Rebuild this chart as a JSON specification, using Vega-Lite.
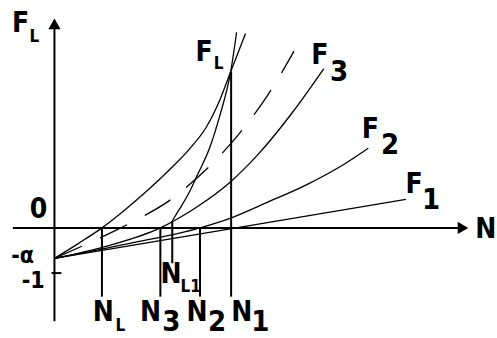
{
  "$schema": "https://vega.github.io/schema/vega-lite/v6.json",
  "width": 497,
  "height": 338,
  "autosize": {"type": "fit", "contains": "padding"},
  "padding": 0,
  "background": "white",
  "config": {"view": {"stroke": null}},
  "datasets": {
    "curves": [
      {"curve": "FL", "i": 0, "n": 0, "f": -0.674},
      {"curve": "FL", "i": 1, "n": 0.522, "f": -0.348},
      {"curve": "FL", "i": 2, "n": 1.043, "f": 0},
      {"curve": "FL", "i": 3, "n": 1.565, "f": 0.413},
      {"curve": "FL", "i": 4, "n": 2.065, "f": 0.848},
      {"curve": "FL", "i": 5, "n": 2.543, "f": 1.304},
      {"curve": "FL", "i": 6, "n": 2.978, "f": 1.761},
      {"curve": "FL", "i": 7, "n": 3.326, "f": 2.217},
      {"curve": "FL", "i": 8, "n": 3.63, "f": 2.826},
      {"curve": "FL", "i": 9, "n": 3.87, "f": 3.457},
      {"curve": "FL", "i": 10, "n": 4.196, "f": 4.304},
      {"curve": "FL1", "i": 0, "n": 2.587, "f": 0.152},
      {"curve": "FL1", "i": 1, "n": 2.717, "f": 0.37},
      {"curve": "FL1", "i": 2, "n": 2.935, "f": 0.739},
      {"curve": "FL1", "i": 3, "n": 3.152, "f": 1.196},
      {"curve": "FL1", "i": 4, "n": 3.413, "f": 1.783},
      {"curve": "FL1", "i": 5, "n": 3.63, "f": 2.478},
      {"curve": "FL1", "i": 6, "n": 3.87, "f": 3.457},
      {"curve": "FL1", "i": 7, "n": 4.0, "f": 4.326},
      {"curve": "D", "i": 0, "n": 0, "f": -0.674},
      {"curve": "D", "i": 1, "n": 0.826, "f": -0.304},
      {"curve": "D", "i": 2, "n": 1.413, "f": -0.022},
      {"curve": "D", "i": 3, "n": 1.957, "f": 0.261},
      {"curve": "D", "i": 4, "n": 2.5, "f": 0.587},
      {"curve": "D", "i": 5, "n": 2.935, "f": 0.935},
      {"curve": "D", "i": 6, "n": 3.478, "f": 1.435},
      {"curve": "D", "i": 7, "n": 4.022, "f": 2.043},
      {"curve": "D", "i": 8, "n": 4.565, "f": 2.761},
      {"curve": "D", "i": 9, "n": 4.913, "f": 3.304},
      {"curve": "D", "i": 10, "n": 5.261, "f": 3.913},
      {"curve": "F3", "i": 0, "n": 0, "f": -0.674},
      {"curve": "F3", "i": 1, "n": 1.196, "f": -0.391},
      {"curve": "F3", "i": 2, "n": 2.326, "f": 0},
      {"curve": "F3", "i": 3, "n": 3.152, "f": 0.478},
      {"curve": "F3", "i": 4, "n": 3.87, "f": 1.022},
      {"curve": "F3", "i": 5, "n": 4.457, "f": 1.609},
      {"curve": "F3", "i": 6, "n": 5.217, "f": 2.543},
      {"curve": "F3", "i": 7, "n": 5.913, "f": 3.522},
      {"curve": "F2", "i": 0, "n": 0, "f": -0.674},
      {"curve": "F2", "i": 1, "n": 1.63, "f": -0.348},
      {"curve": "F2", "i": 2, "n": 3.196, "f": 0},
      {"curve": "F2", "i": 3, "n": 3.87, "f": 0.217},
      {"curve": "F2", "i": 4, "n": 4.674, "f": 0.565},
      {"curve": "F2", "i": 5, "n": 5.543, "f": 0.957},
      {"curve": "F2", "i": 6, "n": 6.37, "f": 1.413},
      {"curve": "F2", "i": 7, "n": 6.891, "f": 1.761},
      {"curve": "F1", "i": 0, "n": 0, "f": -0.674},
      {"curve": "F1", "i": 1, "n": 7.717, "f": 0.63}
    ],
    "rules": [
      {"name": "F axis", "n": 0, "f": -2.065, "n2": 0, "f2": 4.52},
      {"name": "N axis", "n": -0.913, "f": 0, "n2": 8.98, "f2": 0},
      {"name": "tick -1", "n": -0.065, "f": -1, "n2": 0.152, "f2": -1},
      {"name": "N_L", "n": 1.043, "f": 0, "n2": 1.043, "f2": -1.522},
      {"name": "N_3", "n": 2.326, "f": 0, "n2": 2.326, "f2": -1.522},
      {"name": "N_L1", "n": 2.587, "f": 0.152, "n2": 2.587, "f2": -0.783},
      {"name": "N_2", "n": 3.196, "f": 0, "n2": 3.196, "f2": -1.522},
      {"name": "N_1", "n": 3.88, "f": 3.457, "n2": 3.88, "f2": -1.522}
    ],
    "arrows": [
      {"dir": "up", "n": 0, "f": 4.515},
      {"dir": "right", "n": 8.972, "f": 0}
    ],
    "labels": [
      {"text": "F", "role": "main", "n": -0.93, "f": 4.326},
      {"text": "F", "role": "main", "n": 3.1, "f": 3.696},
      {"text": "F", "role": "main", "n": 5.64, "f": 3.63},
      {"text": "F", "role": "main", "n": 6.75, "f": 2.0},
      {"text": "F", "role": "main", "n": 7.71, "f": 0.761},
      {"text": "N", "role": "main", "n": 9.24, "f": -0.217},
      {"text": "N", "role": "main", "n": 0.84, "f": -2.065},
      {"text": "N", "role": "main", "n": 1.88, "f": -2.065},
      {"text": "N", "role": "main", "n": 2.9, "f": -2.065},
      {"text": "N", "role": "main", "n": 3.88, "f": -2.065},
      {"text": "N", "role": "main", "n": 2.33, "f": -1.217},
      {"text": "0", "role": "main", "n": -0.54, "f": 0.217},
      {"text": "3", "role": "sub", "n": 2.37, "f": -2.283},
      {"text": "2", "role": "sub", "n": 3.37, "f": -2.283},
      {"text": "1", "role": "sub", "n": 4.32, "f": -2.283},
      {"text": "3", "role": "sub", "n": 6.05, "f": 3.261},
      {"text": "2", "role": "sub", "n": 7.17, "f": 1.63},
      {"text": "1", "role": "sub", "n": 8.07, "f": 0.413},
      {"text": "L", "role": "subL", "n": -0.55, "f": 4.109},
      {"text": "L", "role": "subL", "n": 3.5, "f": 3.522},
      {"text": "L", "role": "subL", "n": 1.34, "f": -2.283},
      {"text": "L1", "role": "subL", "n": 2.77, "f": -1.413},
      {"text": "-α", "role": "num", "n": -0.95, "f": -0.783},
      {"text": "-1", "role": "num", "n": -0.72, "f": -1.326}
    ]
  },
  "encoding": {
    "x": {"field": "n", "type": "quantitative", "scale": {"domain": [-1.1957, 9.6087], "nice": false, "zero": false}, "axis": null},
    "y": {"field": "f", "type": "quantitative", "scale": {"domain": [-2.3043, 5.0435], "nice": false, "zero": false}, "axis": null}
  },
  "layer": [
    {
      "data": {"name": "curves"},
      "transform": [{"filter": "datum.curve !== 'D'"}],
      "mark": {"type": "line", "color": "black", "strokeWidth": 1.3, "interpolate": "monotone"},
      "encoding": {"detail": {"field": "curve"}, "order": {"field": "i", "type": "quantitative"}}
    },
    {
      "data": {"name": "curves"},
      "transform": [{"filter": "datum.curve === 'D'"}],
      "mark": {"type": "line", "color": "black", "strokeWidth": 1.3, "interpolate": "monotone", "strokeDash": [30, 20]},
      "encoding": {"order": {"field": "i", "type": "quantitative"}}
    },
    {
      "data": {"name": "rules"},
      "mark": {"type": "rule", "color": "black", "strokeWidth": 2},
      "encoding": {"x2": {"field": "n2"}, "y2": {"field": "f2"}}
    },
    {
      "data": {"name": "arrows"},
      "mark": {"type": "point", "filled": true, "color": "black", "size": 150, "opacity": 1},
      "encoding": {"shape": {"field": "dir", "type": "nominal", "scale": {"domain": ["up", "right"], "range": ["triangle-up", "triangle-right"]}, "legend": null}}
    },
    {
      "data": {"name": "labels"},
      "transform": [{"filter": "datum.role === 'main'"}],
      "mark": {"type": "text", "align": "left", "baseline": "alphabetic", "font": "Liberation Sans Narrow, DejaVu Sans Condensed, sans-serif", "fontWeight": "bold", "fontSize": 28, "color": "black"},
      "encoding": {"text": {"field": "text"}}
    },
    {
      "data": {"name": "labels"},
      "transform": [{"filter": "datum.role === 'sub'"}],
      "mark": {"type": "text", "align": "left", "baseline": "alphabetic", "font": "Liberation Sans Narrow, DejaVu Sans Condensed, sans-serif", "fontWeight": "bold", "fontSize": 29, "color": "black"},
      "encoding": {"text": {"field": "text"}}
    },
    {
      "data": {"name": "labels"},
      "transform": [{"filter": "datum.role === 'subL'"}],
      "mark": {"type": "text", "align": "left", "baseline": "alphabetic", "font": "Liberation Sans Narrow, DejaVu Sans Condensed, sans-serif", "fontWeight": "bold", "fontSize": 17, "color": "black"},
      "encoding": {"text": {"field": "text"}}
    },
    {
      "data": {"name": "labels"},
      "transform": [{"filter": "datum.role === 'num'"}],
      "mark": {"type": "text", "align": "left", "baseline": "alphabetic", "font": "Liberation Sans Narrow, DejaVu Sans Condensed, sans-serif", "fontWeight": "bold", "fontSize": 23, "color": "black"},
      "encoding": {"text": {"field": "text"}}
    }
  ]
}
